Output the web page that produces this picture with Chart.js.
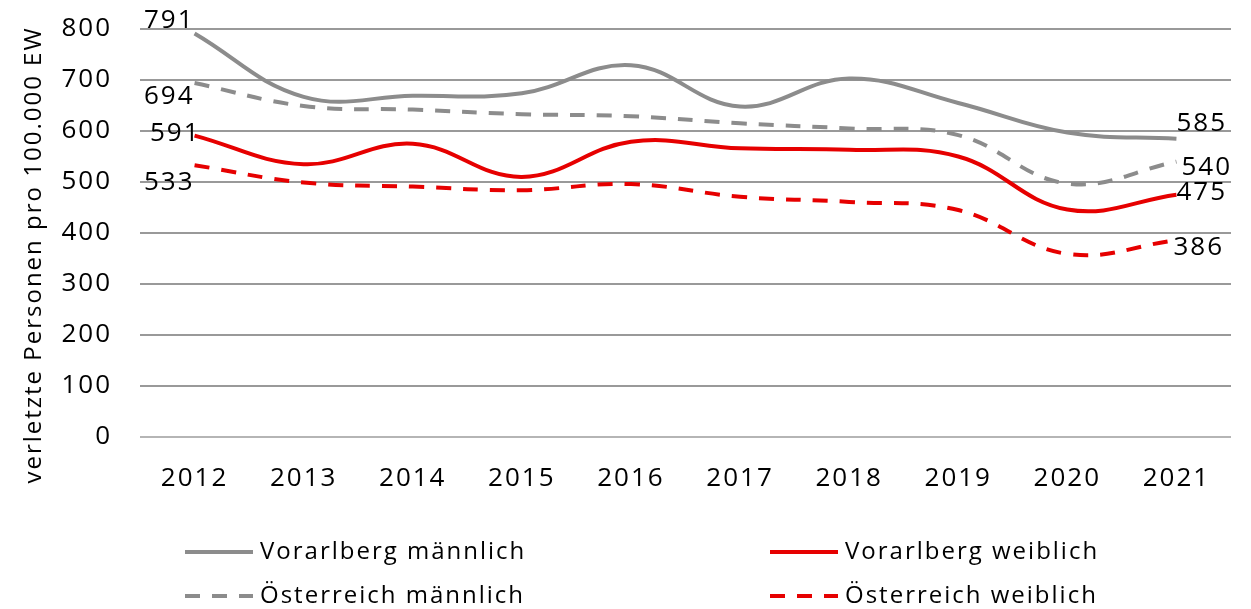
<!DOCTYPE html>
<html lang="de">
<head>
<meta charset="utf-8">
<title>Verletzte Personen pro 100.000 EW</title>
<script src="https://cdn.jsdelivr.net/npm/chart.js@4.4.1/dist/chart.umd.min.js"></script>
<style>
  html, body { margin: 0; padding: 0; background: #fff; }
  #wrap { width: 1251px; height: 609px; }
</style>
</head>
<body>
<div id="wrap"><canvas id="chart" width="1251" height="609"></canvas></div>
<script>
// Data
const years = ['2012', '2013', '2014', '2015', '2016', '2017', '2018', '2019', '2020', '2021'];
const vorarlbergMaennlich = [791, 667, 669, 674, 729, 648, 703, 655, 597, 585];
const oesterreichMaennlich = [694, 649, 642, 633, 629, 615, 605, 592, 497, 540];
const vorarlbergWeiblich = [591, 535, 575, 510, 579, 566, 563, 550, 446, 475];
const oesterreichWeiblich = [533, 499, 491, 484, 496, 471, 461, 445, 359, 386];
const yTicks = [0, 100, 200, 300, 400, 500, 600, 700, 800];
const yTitle = 'verletzte Personen pro 100.000 EW';

const GRAY = '#8c8c8c';
const RED = '#e60000';
const FONT = '"Open Sans", "DejaVu Sans", sans-serif';

// letter spacing to match the wide text of the original
const spacingPlugin = {
    id: 'spacing',
    beforeLayout(chart) { chart.ctx.letterSpacing = '2px'; },
    beforeDraw(chart) { chart.ctx.letterSpacing = '2px'; }
};

// y axis title, placed like the original (a bit below the middle)
const axisTitle = {
    id: 'axisTitle',
    afterDraw(chart, args, opts) {
        const ctx = chart.ctx;
        ctx.save();
        ctx.translate(opts.x, opts.y);
        ctx.rotate(-Math.PI / 2);
        ctx.font = '24px ' + FONT;
        ctx.fillStyle = '#000';
        ctx.textAlign = 'center';
        ctx.textBaseline = 'middle';
        ctx.fillText(opts.text, 0, 0);
        ctx.restore();
    }
};

// first / last value labels
const endLabels = {
    id: 'endLabels',
    afterDatasetsDraw(chart, args, opts) {
        const ctx = chart.ctx;
        ctx.save();
        ctx.font = '26px ' + FONT;
        ctx.fillStyle = '#000';
        ctx.textBaseline = 'middle';
        chart.data.datasets.forEach((ds, i) => {
            const meta = chart.getDatasetMeta(i);
            const off = opts.offsets[i];
            const first = meta.data[0];
            const last = meta.data[meta.data.length - 1];
            ctx.textAlign = 'right';
            ctx.fillText(String(ds.data[0]), first.x + off.first[0], first.y + off.first[1]);
            ctx.textAlign = 'left';
            ctx.fillText(String(ds.data[ds.data.length - 1]), last.x + off.last[0], last.y + off.last[1]);
        });
        ctx.restore();
    }
};

// two column legend under the chart
const columnLegend = {
    id: 'columnLegend',
    afterDraw(chart, args, opts) {
        const ctx = chart.ctx;
        ctx.save();
        ctx.font = '24px ' + FONT;
        ctx.fillStyle = '#000';
        ctx.textBaseline = 'middle';
        ctx.textAlign = 'left';
        opts.order.forEach((dsIndex, k) => {
            const ds = chart.data.datasets[dsIndex];
            const x = opts.cols[k % 2];
            const y = opts.rows[Math.floor(k / 2)];
            ctx.beginPath();
            ctx.strokeStyle = ds.borderColor;
            ctx.lineWidth = ds.borderWidth;
            ctx.setLineDash(ds.borderDash || []);
            ctx.moveTo(x, y);
            ctx.lineTo(x + 68, y);
            ctx.stroke();
            ctx.setLineDash([]);
            ctx.fillText(ds.label, x + 75, y);
        });
        ctx.restore();
    }
};

const ctx = document.getElementById('chart').getContext('2d');
const chart = new Chart(ctx, {
    type: 'line',
    data: {
        labels: years,
        datasets: [
            { label: 'Vorarlberg männlich', data: vorarlbergMaennlich, borderColor: GRAY, borderWidth: 4 },
            { label: 'Österreich männlich', data: oesterreichMaennlich, borderColor: GRAY, borderWidth: 4, borderDash: [15, 12] },
            { label: 'Vorarlberg weiblich', data: vorarlbergWeiblich, borderColor: RED, borderWidth: 4 },
            { label: 'Österreich weiblich', data: oesterreichWeiblich, borderColor: RED, borderWidth: 4, borderDash: [15, 12] }
        ]
    },
    options: {
        responsive: false,
        animation: false,
        elements: {
            line: { tension: 0.4, fill: false, borderCapStyle: 'butt' },
            point: { radius: 0, hoverRadius: 0 }
        },
        layout: { padding: { left: 12, right: 20, top: 29, bottom: 100 } },
        scales: {
            x: {
                offset: true,
                grid: { display: false },
                border: { display: false },
                ticks: { color: '#000', padding: 18, font: { family: FONT, size: 26 } },
                afterFit(scale) { scale.height = 72; }
            },
            y: {
                min: 0,
                max: 800,
                afterBuildTicks(scale) { scale.ticks = yTicks.map(v => ({ value: v })); },
                grid: {
                    drawTicks: false,
                    lineWidth: 2,
                    color: c => (c.tick && c.tick.value === 0 ? '#b5b5b5' : '#999999')
                },
                border: { display: false },
                ticks: { color: '#000', padding: 28, font: { family: FONT, size: 26 } },
                afterFit(scale) {
                    scale.width = 128;
                    scale.paddingTop = 0;
                    scale.paddingBottom = 0;
                }
            }
        },
        plugins: {
            legend: { display: false },
            tooltip: { enabled: false },
            axisTitle: { text: yTitle, x: 34, y: 255 },
            endLabels: {
                offsets: [
                    { first: [0, -13], last: [0, -15] },
                    { first: [0, 14], last: [5, 6] },
                    { first: [6, -2], last: [0, -2] },
                    { first: [0, 17], last: [-3, 7] }
                ]
            },
            columnLegend: {
                order: [0, 2, 1, 3],
                cols: [185, 770],
                rows: [552, 596]
            }
        }
    },
    plugins: [spacingPlugin, axisTitle, endLabels, columnLegend]
});
</script>
</body>
</html>
